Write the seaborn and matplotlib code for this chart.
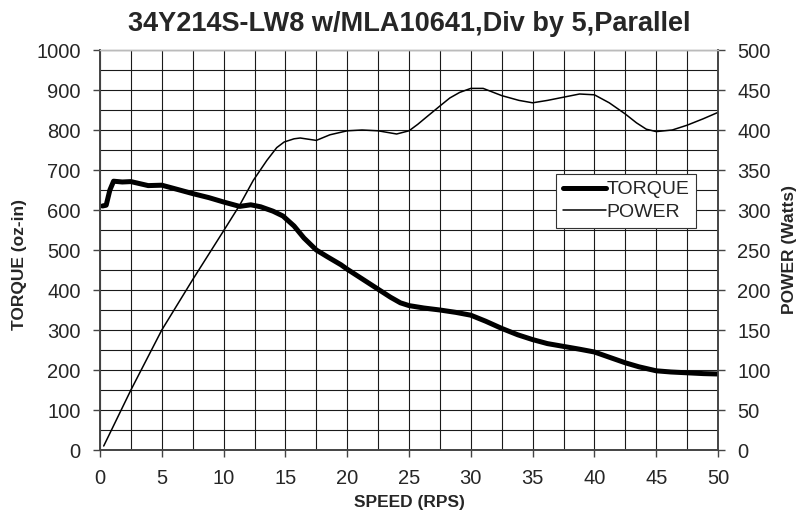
import numpy as np
import pandas as pd
import matplotlib
matplotlib.use('Agg')
import matplotlib.pyplot as plt
from matplotlib.ticker import MultipleLocator
import seaborn as sns

# %% Data
title = '34Y214S-LW8 w/MLA10641,Div by 5,Parallel'

torque_speed = [0.2, 0.5, 0.8, 1.1, 1.8, 2.5, 3.2, 3.9, 5.0, 6.2, 7.5, 8.8, 10.0, 11.3,
                12.2, 13.0, 14.0, 14.8, 15.7, 16.5, 17.5, 18.4, 19.5, 20.0, 21.1, 22.5,
                23.5, 24.3, 25.0, 26.2, 27.5, 28.8, 30.0, 31.2, 32.5, 33.8, 35.0, 36.2,
                37.5, 38.8, 40.0, 41.2, 42.5, 43.6, 45.0, 46.2, 47.5, 48.8, 50.0]
torque = [610, 612, 650, 672, 670, 671, 666, 661, 662, 652, 641, 631, 620, 609,
          613, 608, 597, 585, 560, 530, 500, 483, 463, 452, 430, 402,
          382, 368, 361, 355, 350, 344, 337, 322, 304, 288, 276, 266,
          259, 252, 245, 232, 218, 208, 198, 195, 193, 191, 190]

power_speed = [0.3, 2.5, 5.0, 7.5, 10.0, 11.3, 12.4, 13.5, 14.3, 14.9, 15.7, 16.2, 17.5,
               18.6, 20.0, 21.2, 22.5, 24.0, 25.0, 25.7, 26.4, 27.5, 28.3, 29.1, 30.0,
               31.0, 32.5, 33.9, 35.0, 36.2, 37.5, 38.8, 40.0, 41.2, 42.5, 43.4, 44.2,
               45.0, 46.3, 47.5, 48.8, 50.0]
power = [5, 75, 150, 213, 274, 306, 337, 362, 378, 385, 389, 390, 387,
         394, 399, 400, 399, 395, 399, 407, 416, 430, 440, 447, 452,
         452, 443, 437, 434, 437, 441, 445, 444, 434, 420, 409, 401,
         398, 400, 406, 414, 422]

torque_df = pd.DataFrame({'speed': torque_speed, 'torque': torque})
power_df = pd.DataFrame({'speed': power_speed, 'power': power})

# %% Style
sns.set_style('white')
plt.rcParams['font.family'] = ['Liberation Sans', 'DejaVu Sans']

fig = plt.figure(figsize=(8.11, 5.12), dpi=100)
ax = fig.add_axes([100 / 811, 62 / 512, 618 / 811, 400 / 512])

sns.lineplot(data=torque_df, x='speed', y='torque', ax=ax, color='black', lw=3.6,
             sort=False, legend=False, zorder=3)

ax.set_xlim(0, 50)
ax.set_ylim(0, 1000)
ax.xaxis.set_major_locator(MultipleLocator(5))
ax.xaxis.set_minor_locator(MultipleLocator(2.5))
ax.yaxis.set_major_locator(MultipleLocator(100))
ax.yaxis.set_minor_locator(MultipleLocator(50))
ax.grid(True, which='both', color='#1a1a1a', lw=0.8)
ax.set_axisbelow(True)
ax.tick_params(axis='both', which='major', direction='out', length=5, width=1,
               color='#444444', labelsize=14.5, left=True, bottom=True, pad=9)
ax.tick_params(axis='both', which='minor', length=0)

ax2 = ax.twinx()
sns.lineplot(data=power_df, x='speed', y='power', ax=ax2, color='black', lw=1.1,
             sort=False, legend=False)
ax2.set_ylim(0, 500)
ax2.yaxis.set_major_locator(MultipleLocator(50))
ax2.tick_params(axis='y', direction='out', length=5, width=1, color='#444444',
                labelsize=14.5, right=True, pad=9)

for a in (ax, ax2):
    for side in ('left', 'right', 'bottom'):
        a.spines[side].set_color('#444444')
        a.spines[side].set_linewidth(1.2)
    a.spines['top'].set_color('#bbbbbb')
    a.spines['top'].set_linewidth(1.0)

ax.set_xlabel('SPEED (RPS)', fontsize=12.5, fontweight='bold')
ax.xaxis.set_label_coords(0.5, -0.1125)
ax.set_ylabel('TORQUE (oz-in)', fontsize=12.5, fontweight='bold')
ax.yaxis.set_label_coords(-0.118, 0.4625)
ax2.set_ylabel('POWER (Watts)', fontsize=12.5, fontweight='bold')
ax2.yaxis.set_label_coords(1.1036, 0.5)
ax.set_title(title, fontsize=19.5, fontweight='bold', pad=14)

handles = [plt.Line2D([], [], color='black', lw=3.6),
           plt.Line2D([], [], color='black', lw=1.1)]
leg = ax2.legend(handles, ['TORQUE', 'POWER'], loc='upper left',
                 bbox_to_anchor=(0.738, 0.69), fontsize=14, frameon=True,
                 fancybox=False, framealpha=1, edgecolor='#333333',
                 handlelength=2.2, handletextpad=0.05, borderpad=0.35,
                 labelspacing=0.25, borderaxespad=0, handleheight=0.7)
leg.get_frame().set_linewidth(0.8)

plt.savefig('out.png', dpi=100)
